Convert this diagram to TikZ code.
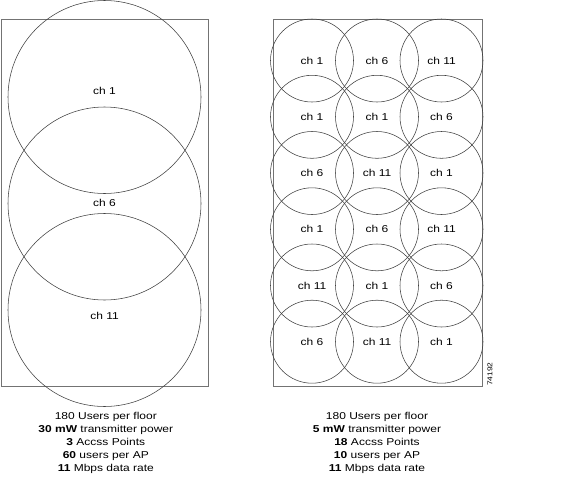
\documentclass[tikz,border=0pt]{standalone}
\usepackage{fontspec}
\setmainfont[FakeStretch=1.2]{Liberation Sans}
\begin{document}
\begin{tikzpicture}[x=1pt,y=-1pt,
  floor/.style={draw=black!55,line width=0.8pt},
  cell/.style={circle,draw=black!75,line width=0.55pt,inner sep=0pt},
  chlabel/.style={font=\fontsize{10}{12}\selectfont,inner sep=0pt},
  info/.style={font=\fontsize{10}{12}\selectfont,anchor=base,inner sep=0pt}]
\useasboundingbox (0,0) rectangle (576,490);
% left floor
\draw[floor] (1,19) rectangle (208,386);
\node[cell,minimum size=193pt] (L1) at (104.5,97) {};
\node[cell,minimum size=193pt] (L2) at (104.5,203.5) {};
\node[cell,minimum size=193pt] (L3) at (104.5,310) {};
\node[chlabel] (l1) at (104.5,91) {ch 1};
\node[chlabel] (l2) at (104.5,203) {ch 6};
\node[chlabel] (l3) at (104.5,315.5) {ch 11};
% right floor
\draw[floor] (273,19) rectangle (482,386);
\foreach \r/\y/\a/\b/\c in {1/60.5/1/6/11, 2/116.8/1/1/6, 3/173/6/11/1, 4/229.3/1/6/11, 5/285.5/11/1/6, 6/341.7/6/11/1}{
  \node[cell,minimum size=83pt,font=\fontsize{10}{12}\selectfont] (R\r a) at (312,\y) {ch \a};
  \node[cell,minimum size=83pt,font=\fontsize{10}{12}\selectfont] (R\r b) at (377,\y) {ch \b};
  \node[cell,minimum size=83pt,font=\fontsize{10}{12}\selectfont] (R\r c) at (441.5,\y) {ch \c};
}
\node[rotate=90,font=\fontsize{7}{8}\selectfont,inner sep=0pt] (fig) at (490,374) {74192};
% left info
\node[info] (a1) at (105.8,419.3) {180 Users per floor};
\node[info] (a2) at (105.8,432.4) {\textbf{30 mW} transmitter power};
\node[info] (a3) at (105.8,445.5) {\textbf{3} Accss Points};
\node[info] (a4) at (105.8,458.6) {\textbf{60} users per AP};
\node[info] (a5) at (105.8,471.7) {\textbf{11} Mbps data rate};
% right info
\node[info] (b1) at (377,419.3) {180 Users per floor};
\node[info] (b2) at (377,432.4) {\textbf{5 mW} transmitter power};
\node[info] (b3) at (377,445.5) {\textbf{18} Accss Points};
\node[info] (b4) at (377,458.6) {\textbf{10} users per AP};
\node[info] (b5) at (377,471.7) {\textbf{11} Mbps data rate};
\end{tikzpicture}
\end{document}
